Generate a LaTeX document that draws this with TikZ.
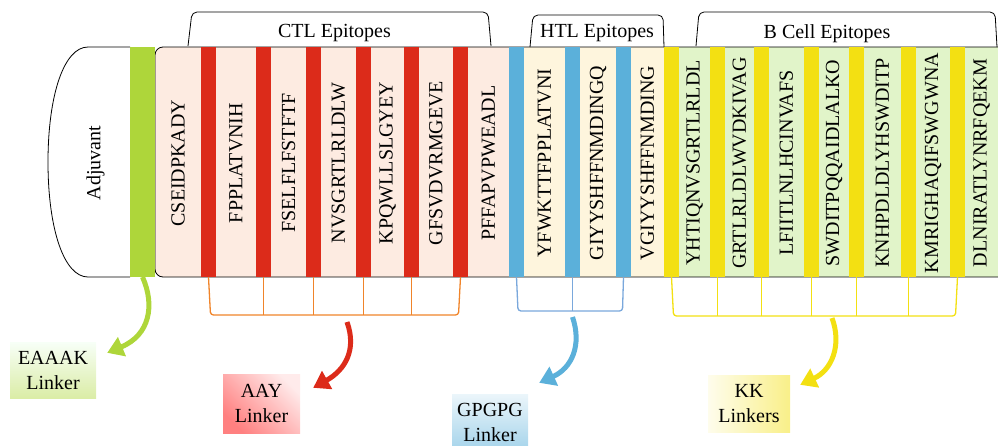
\documentclass[tikz,border=0pt]{standalone}
\usepackage{fontspec}
\setmainfont{Liberation Serif}
\usetikzlibrary{calc, arrows.meta}

\definecolor{ctlfill}{HTML}{FDEBE1}
\definecolor{htlfill}{HTML}{FEF5DD}
\definecolor{bcellfill}{HTML}{E1F4C9}
\definecolor{eaaakgreen}{HTML}{AED63A}
\definecolor{aayred}{HTML}{DC2B1A}
\definecolor{gpgpgblue}{HTML}{5BB0DA}
\definecolor{kkyellow}{HTML}{F3E012}
\definecolor{ctlorange}{HTML}{F0842A}
\definecolor{htlblue}{HTML}{7AA8DC}

\begin{document}
\begin{tikzpicture}[x=1pt, y=-1pt,
    every node/.style={font=\fontsize{20}{25}\selectfont},
    seqtext/.style={rotate=90, inner sep=0pt},
    linkbar/.style={fill=#1, minimum width=15pt, minimum height=230pt, inner sep=0pt, outer sep=0pt},
    footbrace/.style={draw=#1, line width=1.3pt, rounded corners=3pt},
    footleg/.style={draw=#1, line width=1.3pt},
    topbrace/.style={draw, line width=0.8pt, rounded corners=5pt},
    linkarrow/.style={draw=#1, line width=5pt, -{Triangle[length=16pt,width=20pt]}},
    linkbox/.style={align=center, inner sep=0pt}]
  \useasboundingbox (0,0) rectangle (998,445);

  % epitope blocks and outline
  \fill[ctlfill, rounded corners=8pt] (155,47) rectangle (516,277);
  \fill[htlfill] (516,47) rectangle (664,277);
  \fill[bcellfill] (664,47) rectangle (998,277);
  \draw[line width=0.8pt, rounded corners=8pt] (998,47) -- (155,47) -- (155,277) -- (998,277);

  % adjuvant cap
  \draw[line width=0.8pt, fill=white] (130,47) -- (88,47)
    .. controls (64,47) and (48,95) .. (48,162)
    .. controls (48,229) and (64,277) .. (88,277) -- (130,277);
  \node[seqtext] (adj) at (95.5,163) {Adjuvant};

  % linkers
  \node[linkbar=eaaakgreen, minimum width=25pt] (ea1) at (142.5,162) {};
  \foreach \x [count=\i] in {208.5,263.5,313.5,363.5,411.5,460.5}
    \node[linkbar=aayred] (aay\i) at (\x,162) {};
  \foreach \x [count=\i] in {516.5,572.5,623.5}
    \node[linkbar=gpgpgblue] (gp\i) at (\x,162) {};
  \foreach \x [count=\i] in {671.5,717.5,761.5,811.5,856.5,908.5,957.5}
    \node[linkbar=kkyellow] (kk\i) at (\x,162) {};

  % epitope sequences
  \foreach \x/\s [count=\i] in {178/CSEIDPKADY, 236/FPPLATVNIH, 288.5/FSELFLFSTFTF,
      338.5/NVSGRTLRLDLW, 387.5/KPQWLLSLGYEY, 436/GFSVDVRMGEVE, 488.5/PFFAPVPWEADL,
      544.5/YFWKTTFPPLATVNI, 598/GIYYSHFFNMDINGQ, 647.5/VGIYYSHFFNMDING,
      694.5/YHTIQNVSGRTLRLDL, 739.5/GRTLRLDLWVDKIVAG, 786.5/LFIITLNLHCINVAFS,
      834/SWDITPQQAIDLALKO, 882.5/KNHPDLDLYHSWDITP, 933/KMRIGHAQIFSWGWNA,
      981.5/DLNIRATLYNRFQEKM}
    \node[seqtext] (ep\i) at (\x,163) {\s};

  % group brackets on top
  \draw[topbrace] (188,46) -- (192,12) -- (488,12) -- (491,46);
  \node (ctl) at (334.5,33.5) {CTL Epitopes};
  \draw[topbrace] (530,47) -- (533,15) -- (663,15) -- (664,47);
  \node (htl) at (597,33) {HTL Epitopes};
  \draw[topbrace] (696,46) -- (699,12) -- (995,12) -- (997,47);
  \node (bcell) at (827,33.5) {B Cell Epitopes};

  % linker brackets below
  \draw[footbrace=ctlorange] (aay1.south) -- ($(aay1.south)+(2,38)$) -- ($(aay6.south)+(-2,38)$) -- (aay6.south);
  \foreach \i in {2,...,5}
    \draw[footleg=ctlorange] (aay\i.south) -- ($(aay\i.south)+(0,38)$);
  \draw[footbrace=htlblue] (gp1.south) -- ($(gp1.south)+(1.5,34)$) -- ($(gp3.south)+(-1,34)$) -- (gp3.south);
  \draw[footleg=htlblue] (gp2.south) -- ($(gp2.south)+(0,34)$);
  \draw[footbrace=kkyellow] (kk1.south) -- ($(kk1.south)+(2,39)$) -- ($(kk7.south)+(-2,39)$) -- (kk7.south);
  \foreach \i in {2,...,6}
    \draw[footleg=kkyellow] (kk\i.south) -- ($(kk\i.south)+(0,39)$);

  % linker names
  \node[linkbox, minimum width=86pt, minimum height=56pt,
    top color=green!3!white, bottom color=eaaakgreen!45!white] (eaaak) at (53,370) {EAAAK\\Linker};
  \node[linkbox, minimum width=77pt, minimum height=59pt,
    top color=red!8!white, bottom color=red!50!white, shading angle=-45] (aay) at (261.5,403.5) {AAY\\Linker};
  \node[linkbox, minimum width=76pt, minimum height=56pt,
    top color=gpgpgblue!12!white, bottom color=gpgpgblue!55!white] (gpgpg) at (490,422) {GPGPG\\Linker};
  \node[linkbox, minimum width=82pt, minimum height=57pt,
    left color=kkyellow!8!white, right color=kkyellow!50!white] (kk) at (749,403.5) {KK\\Linkers};

  \coordinate (aayfoot) at (347,322);
  \coordinate (gpfoot) at ($(gp2.south)+(0,40)$);
  \coordinate (kkfoot) at (832,318);
  \coordinate (eaaaktip) at ($(eaaak.north east)+(11,11)$);
  \coordinate (aaytip) at ($(aay.north east)+(13,14)$);
  \coordinate (gpgpgtip) at ($(gpgpg.north east)+(11,-11)$);
  \coordinate (kktip) at ($(kk.north east)+(10,10)$);

  \draw[linkarrow=eaaakgreen] (ea1.south) .. controls (155,305) and (150,335) .. (eaaaktip);
  \draw[linkarrow=aayred] (aayfoot) .. controls (357,350) and (345,370) .. (aaytip);
  \draw[linkarrow=gpgpgblue] (gpfoot) .. controls (582,345) and (572,368) .. (gpgpgtip);
  \draw[linkarrow=kkyellow] (kkfoot) .. controls (842,345) and (832,370) .. (kktip);
\end{tikzpicture}
\end{document}
